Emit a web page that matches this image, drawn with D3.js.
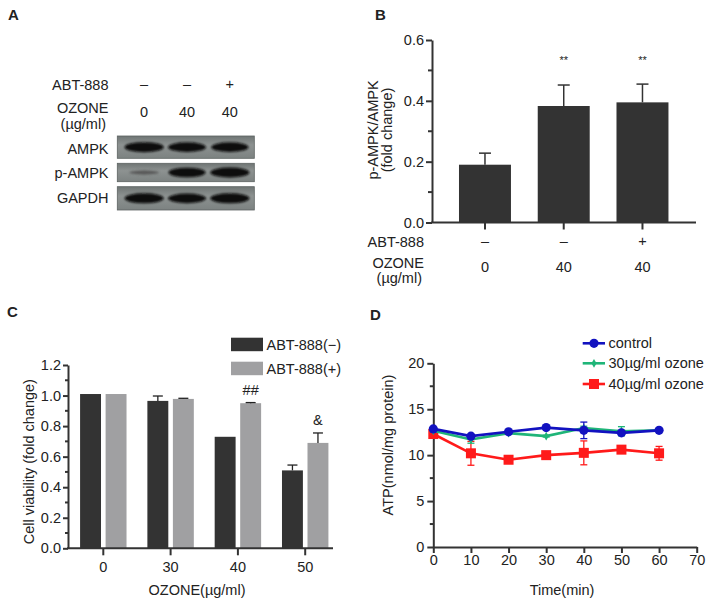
<!DOCTYPE html>
<html><head><meta charset="utf-8">
<script src="https://cdn.jsdelivr.net/npm/d3@7/dist/d3.min.js"></script>
<style>
body{margin:0;background:#fff;}
svg text{font-family:"Liberation Sans",Arial,sans-serif;fill:#222;}
</style></head>
<body>
<svg id="fig" width="708" height="601"></svg>
<script>
// ---------- Panel A data ----------
const blotLanes = ["L1", "L2", "L3"];
const abtSigns = ["\u2013", "\u2013", "+"];
const ozoneDoses = ["0", "40", "40"];
const blotProteins = ["AMPK", "p-AMPK", "GAPDH"];
const bandAMPK = [1.0, 0.97, 0.95];
const bandPAMPK = [0.3, 0.95, 1.0];
const bandGAPDH = [1.0, 0.97, 1.0];

// ---------- Panel B data ----------
const bGroups = ["g0", "g40", "g40b"];
const bValues = [0.19, 0.383, 0.395];
const bErrors = [0.038, 0.069, 0.06];
const bSig = ["", "**", "**"];
const bYTicks = [0, 0.2, 0.4, 0.6];
const bYMinor = [0.1, 0.3, 0.5];

// ---------- Panel C data ----------
const cDoses = ["0", "30", "40", "50"];
const cSeries = ["ABT-888(\u2212)", "ABT-888(+)"];
const cMinus = [1.01, 0.965, 0.73, 0.51];
const cMinusErr = [0, 0.032, 0, 0.035];
const cPlus = [1.01, 0.978, 0.95, 0.69];
const cPlusErr = [0, 0.004, 0.004, 0.065];
const cSig = ["", "", "##", "&"];
const cYTicks = [0, 0.2, 0.4, 0.6, 0.8, 1.0, 1.2];
const cYMinor = [0.1, 0.3, 0.5, 0.7, 0.9, 1.1];

// ---------- Panel D data ----------
const dTimes = [0, 10, 20, 30, 40, 50, 60];
const dSeriesNames = ["control", "30\u00b5g/ml ozone", "40\u00b5g/ml ozone"];
const dControl = [12.86, 12.07, 12.54, 13.0, 12.7, 12.43, 12.7];
const dControlErr = [0.15, 0.15, 0.1, 0.1, 0.9, 0.2, 0.1];
const dOzone30 = [12.65, 11.7, 12.4, 12.07, 12.95, 12.6, 12.7];
const dOzone30Err = [0.1, 0.4, 0.1, 0.1, 0.2, 0.5, 0.1];
const dOzone40 = [12.3, 10.2, 9.5, 10.0, 10.25, 10.6, 10.2];
const dOzone40Err = [0.3, 1.3, 0.2, 0.2, 1.3, 0.3, 0.75];
const dXTicks = [0, 10, 20, 30, 40, 50, 60, 70];
const dYTicks = [0, 5, 10, 15, 20];
const dYMinor = [2.5, 7.5, 12.5, 17.5];

const svg = d3.select("#fig");
const AX = "#333";
const FS = 14.5;
const TFS = 14.5;
const FONT = "Liberation Sans, Arial, sans-serif";

// panel letters
[["A", 8, 19.5], ["B", 375, 19.5], ["C", 7, 317], ["D", 370, 320]].forEach(([t, x, y]) =>
  svg.append("text").attr("x", x).attr("y", y).attr("font-weight", "bold").attr("font-size", 15).text(t));

// ================= Panel A =================
{
  const g = svg.append("g");
  const defs = svg.append("defs");
  defs.append("filter").attr("id", "blur").attr("x", "-30%").attr("y", "-60%").attr("width", "160%").attr("height", "220%")
    .append("feGaussianBlur").attr("stdDeviation", 1.3);
  const bg = defs.append("linearGradient").attr("id", "blotbg").attr("x1", 0).attr("x2", 0).attr("y1", 0).attr("y2", 1);
  bg.append("stop").attr("offset", "0%").attr("stop-color", "#6f7574");
  bg.append("stop").attr("offset", "40%").attr("stop-color", "#8d9291");
  bg.append("stop").attr("offset", "100%").attr("stop-color", "#7c8281");

  const x = d3.scaleBand().domain(blotLanes).range([121, 253]).padding(0.08);
  const cx = d => x(d) + x.bandwidth() / 2;
  const rows = [
    { name: "AMPK", y0: 136, y1: 158.3, vals: bandAMPK, base: 154 },
    { name: "p-AMPK", y0: 163.3, y1: 181.7, vals: bandPAMPK, base: 178 },
    { name: "GAPDH", y0: 186.7, y1: 210, vals: bandGAPDH, base: 203 }
  ];
  g.append("text").attr("x", 108.5).attr("y", 90).attr("text-anchor", "end").attr("font-size", FS).text("ABT-888");
  g.append("text").attr("x", 108.5).attr("y", 113).attr("text-anchor", "end").attr("font-size", FS).text("OZONE");
  g.append("text").attr("x", 106).attr("y", 128.5).attr("text-anchor", "end").attr("font-size", FS).text("(\u00b5g/ml)");
  g.selectAll(".abt").data(blotLanes).join("text").attr("x", d => cx(d)).attr("y", 89)
    .attr("text-anchor", "middle").attr("font-size", FS).text((d, i) => abtSigns[i]);
  g.selectAll(".oz").data(blotLanes).join("text").attr("x", d => cx(d)).attr("y", 117.3)
    .attr("text-anchor", "middle").attr("font-size", FS).text((d, i) => ozoneDoses[i]);
  rows.forEach((r, ri) => {
    g.append("text").attr("x", 108.5).attr("y", r.base).attr("text-anchor", "end").attr("font-size", FS).text(blotProteins[ri]);
    g.append("rect").attr("x", 117.3).attr("y", r.y0).attr("width", 137).attr("height", r.y1 - r.y0)
      .attr("fill", "url(#blotbg)").attr("stroke", "#5d6362").attr("stroke-width", 0.8);
    const h = r.y1 - r.y0;
    g.selectAll(null).data(blotLanes).join("ellipse")
      .attr("cx", d => cx(d)).attr("cy", r.y0 + h / 2)
      .attr("rx", (d, i) => 19.5 * Math.max(0.75, r.vals[i]))
      .attr("ry", (d, i) => 4.4 * r.vals[i] + 0.6)
      .attr("fill", (d, i) => d3.interpolateRgb("#777", "#0a0a0a")(r.vals[i]))
      .attr("filter", "url(#blur)");
  });
}

function styleAxis(a) {
  a.select(".domain").attr("stroke", AX).attr("stroke-width", 2);
  a.selectAll(".tick line").attr("stroke", AX).attr("stroke-width", 2);
  a.selectAll("text").attr("font-size", TFS).attr("fill", "#222").attr("font-family", FONT);
}

// ================= Panel B =================
{
  const g = svg.append("g");
  const xl = 432, xr = 696, y0 = 222.5, yTop = 40;
  const y = d3.scaleLinear().domain([0, 0.6]).range([y0, yTop]);
  const x = d3.scaleBand().domain(bGroups).range([445.6, 445.6 + 3 * 78.75]).paddingInner(0.34).paddingOuter(0.17);
  const cx = d => x(d) + x.bandwidth() / 2;
  g.selectAll(".bar").data(bGroups).join("rect")
    .attr("x", d => x(d)).attr("width", x.bandwidth())
    .attr("y", (d, i) => y(bValues[i])).attr("height", (d, i) => y0 - y(bValues[i]))
    .attr("fill", "#333333");
  bGroups.forEach((d, i) => {
    g.append("line").attr("x1", cx(d)).attr("x2", cx(d)).attr("y1", y(bValues[i])).attr("y2", y(bValues[i] + bErrors[i]))
      .attr("stroke", "#333").attr("stroke-width", 1.5);
    g.append("line").attr("x1", cx(d) - 6).attr("x2", cx(d) + 6).attr("y1", y(bValues[i] + bErrors[i])).attr("y2", y(bValues[i] + bErrors[i]))
      .attr("stroke", "#333").attr("stroke-width", 1.5);
    if (bSig[i]) g.append("text").attr("x", cx(d)).attr("y", 64).attr("text-anchor", "middle").attr("font-size", 11).text(bSig[i]);
  });
  const ya = g.append("g").attr("transform", `translate(${xl},0)`)
    .call(d3.axisLeft(y).tickValues(bYTicks).tickFormat(d3.format(".1f")).tickSize(6).tickSizeOuter(0).tickPadding(2));
  styleAxis(ya);
  g.selectAll(".bminor").data(bYMinor).join("line").attr("x1", xl - 4).attr("x2", xl).attr("y1", d => y(d)).attr("y2", d => y(d))
    .attr("stroke", AX).attr("stroke-width", 2);
  g.append("line").attr("x1", xl - 1).attr("x2", xr).attr("y1", y0).attr("y2", y0).attr("stroke", AX).attr("stroke-width", 2);
  g.selectAll(".bxt").data(bGroups).join("line").attr("x1", d => cx(d)).attr("x2", d => cx(d)).attr("y1", y0).attr("y2", y0 + 7)
    .attr("stroke", AX).attr("stroke-width", 2);
  g.append("text").attr("transform", "translate(378,130) rotate(-90)").attr("text-anchor", "middle").attr("font-size", FS).text("p-AMPK/AMPK");
  g.append("text").attr("transform", "translate(392,130) rotate(-90)").attr("text-anchor", "middle").attr("font-size", FS).text("(fold change)");
  g.append("text").attr("x", 424).attr("y", 246.5).attr("text-anchor", "end").attr("font-size", FS).text("ABT-888");
  g.append("text").attr("x", 424).attr("y", 267.5).attr("text-anchor", "end").attr("font-size", FS).text("OZONE");
  g.append("text").attr("x", 422).attr("y", 282.5).attr("text-anchor", "end").attr("font-size", FS).text("(\u00b5g/ml)");
  g.selectAll(".bs").data(bGroups).join("text").attr("x", d => cx(d)).attr("y", 246)
    .attr("text-anchor", "middle").attr("font-size", FS).text((d, i) => abtSigns[i]);
  g.selectAll(".bd").data(bGroups).join("text").attr("x", d => cx(d)).attr("y", 271.7)
    .attr("text-anchor", "middle").attr("font-size", FS).text((d, i) => ozoneDoses[i]);
}

// ================= Panel C =================
{
  const g = svg.append("g");
  const xl = 68, xr = 333, y0 = 548.3, yTop = 365;
  const y = d3.scaleLinear().domain([0, 1.2]).range([y0, yTop]);
  const step = 67.3;
  const x = d3.scaleBand().domain(cDoses).range([103.3 - step / 2, 103.3 - step / 2 + 4 * step]).paddingInner(0.31).paddingOuter(0.155);
  const xs = d3.scaleBand().domain(cSeries).range([0, x.bandwidth()]).paddingInner(0.18);
  const cols = ["#333333", "#a0a0a2"];
  const vals = [cMinus, cPlus], errs = [cMinusErr, cPlusErr];
  cSeries.forEach((s, si) => {
    g.selectAll(null).data(cDoses).join("rect")
      .attr("x", d => x(d) + xs(s)).attr("width", xs.bandwidth())
      .attr("y", (d, i) => y(vals[si][i])).attr("height", (d, i) => y0 - y(vals[si][i]))
      .attr("fill", cols[si]);
    cDoses.forEach((d, i) => {
      if (errs[si][i] > 0) {
        const c = x(d) + xs(s) + xs.bandwidth() / 2;
        const top = y(vals[si][i] + errs[si][i]);
        g.append("line").attr("x1", c).attr("x2", c).attr("y1", y(vals[si][i])).attr("y2", top).attr("stroke", "#222").attr("stroke-width", 1.3);
        g.append("line").attr("x1", c - 5).attr("x2", c + 5).attr("y1", top).attr("y2", top).attr("stroke", "#222").attr("stroke-width", 1.3);
      }
    });
  });
  cDoses.forEach((d, i) => {
    if (cSig[i]) {
      const c = x(d) + xs(cSeries[1]) + xs.bandwidth() / 2;
      g.append("text").attr("x", c).attr("y", y(cPlus[i] + cPlusErr[i]) - 8).attr("text-anchor", "middle").attr("font-size", FS).text(cSig[i]);
    }
  });
  const ya = g.append("g").attr("transform", `translate(${xl},0)`)
    .call(d3.axisLeft(y).tickValues(cYTicks).tickFormat(d3.format(".1f")).tickSize(5).tickSizeOuter(0).tickPadding(2));
  styleAxis(ya);
  g.selectAll(".cminor").data(cYMinor).join("line").attr("x1", xl - 3).attr("x2", xl).attr("y1", d => y(d)).attr("y2", d => y(d))
    .attr("stroke", AX).attr("stroke-width", 2);
  g.append("line").attr("x1", xl - 1).attr("x2", xr).attr("y1", y0).attr("y2", y0).attr("stroke", AX).attr("stroke-width", 2);
  g.selectAll(".cxt").data(cDoses).join("line").attr("x1", d => x(d) + x.bandwidth() / 2).attr("x2", d => x(d) + x.bandwidth() / 2)
    .attr("y1", y0).attr("y2", y0 + 7).attr("stroke", AX).attr("stroke-width", 2);
  g.selectAll(".cxl").data(cDoses).join("text").attr("x", d => x(d) + x.bandwidth() / 2).attr("y", 572)
    .attr("text-anchor", "middle").attr("font-size", TFS).text(d => d);
  g.append("text").attr("x", 197).attr("y", 595).attr("text-anchor", "middle").attr("font-size", FS).text("OZONE(\u00b5g/ml)");
  g.append("text").attr("transform", "translate(33.5,461.7) rotate(-90)").attr("text-anchor", "middle").attr("font-size", FS).text("Cell viability (fold change)");
  cSeries.forEach((s, si) => {
    const ly = [337.7, 361.7][si];
    g.append("rect").attr("x", 231).attr("y", ly).attr("width", 32).attr("height", 13.5).attr("fill", cols[si]);
    g.append("text").attr("x", 266.5).attr("y", ly + 12).attr("font-size", FS).text(s);
  });
}

// ================= Panel D =================
{
  const g = svg.append("g");
  const y0 = 547, yTop = 363.3;
  const x = d3.scaleLinear().domain([0, 70]).range([433.3, 696.7]);
  const y = d3.scaleLinear().domain([0, 20]).range([y0, yTop]);
  const ya = g.append("g").attr("transform", `translate(${x(0)},0)`)
    .call(d3.axisLeft(y).tickValues(dYTicks).tickSize(6).tickSizeOuter(0).tickPadding(3));
  styleAxis(ya);
  g.selectAll(".dminor").data(dYMinor).join("line").attr("x1", x(0) - 3.5).attr("x2", x(0)).attr("y1", d => y(d)).attr("y2", d => y(d))
    .attr("stroke", AX).attr("stroke-width", 2);
  const xa = g.append("g").attr("transform", `translate(0,${y0})`)
    .call(d3.axisBottom(x).tickValues(dXTicks).tickSize(6).tickSizeOuter(0).tickPadding(2));
  styleAxis(xa);
  g.append("text").attr("x", 562).attr("y", 595).attr("text-anchor", "middle").attr("font-size", FS).text("Time(min)");
  g.append("text").attr("transform", "translate(393,445) rotate(-90)").attr("text-anchor", "middle").attr("font-size", FS).text("ATP(nmol/mg protein)");

  const series = [
    { v: dOzone40, e: dOzone40Err, c: "#ff1a1a", m: "square" },
    { v: dOzone30, e: dOzone30Err, c: "#1fb578", m: "diamond" },
    { v: dControl, e: dControlErr, c: "#1212c0", m: "circle" }
  ];
  const line = d3.line().x((d, i) => x(dTimes[i])).y(d => y(d));
  function marker(sel, m, c) {
    if (m === "circle") sel.append("circle").attr("r", 4.6).attr("fill", c);
    else if (m === "square") sel.append("rect").attr("x", -5).attr("y", -5).attr("width", 10).attr("height", 10).attr("fill", c);
    else sel.append("path").attr("d", d3.symbol(d3.symbolDiamond, 22)()).attr("fill", c);
  }
  series.forEach(s => {
    s.v.forEach((v, i) => {
      const cx = x(dTimes[i]);
      g.append("line").attr("x1", cx).attr("x2", cx).attr("y1", y(v - s.e[i])).attr("y2", y(v + s.e[i])).attr("stroke", s.c).attr("stroke-width", 1.3);
      [v - s.e[i], v + s.e[i]].forEach(w => g.append("line").attr("x1", cx - 3.5).attr("x2", cx + 3.5).attr("y1", y(w)).attr("y2", y(w)).attr("stroke", s.c).attr("stroke-width", 1.3));
    });
    g.append("path").datum(s.v).attr("d", line).attr("fill", "none").attr("stroke", s.c).attr("stroke-width", 2.6);
    s.v.forEach((v, i) => marker(g.append("g").attr("transform", `translate(${x(dTimes[i])},${y(v)})`), s.m, s.c));
  });
  const leg = [
    { c: "#1212c0", m: "circle" }, { c: "#1fb578", m: "diamond" }, { c: "#ff1a1a", m: "square" }
  ];
  dSeriesNames.forEach((n, i) => {
    const ly = [343.3, 363.3, 384][i];
    g.append("line").attr("x1", 582.7).attr("x2", 605).attr("y1", ly).attr("y2", ly).attr("stroke", leg[i].c).attr("stroke-width", 2.6);
    marker(g.append("g").attr("transform", `translate(594,${ly})`), leg[i].m, leg[i].c);
    g.append("text").attr("x", 608.5).attr("y", ly + 5).attr("font-size", FS).text(n);
  });
}
</script>
</body></html>
